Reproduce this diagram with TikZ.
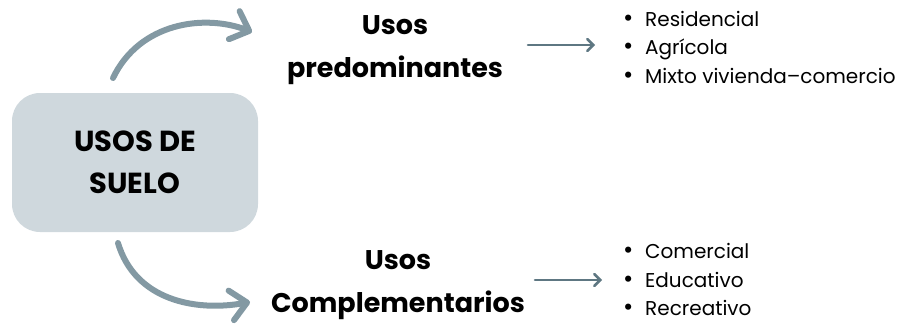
\documentclass[tikz,border=0pt]{standalone}
\usepackage{fontspec}
\setmainfont{Poppins}
\usetikzlibrary{arrows.meta}
\definecolor{boxfill}{HTML}{CFD8DD}
\definecolor{bigarrow}{HTML}{8399A3}
\definecolor{smallarrow}{HTML}{5E7782}
\newcommand\itembul{\makebox[22pt][l]{\scalebox{1.25}{•}}}
\begin{document}
\begin{tikzpicture}[x=1pt,y=-1pt,
  bigarr/.style={draw=bigarrow,line width=6pt,line cap=round,
    -{Straight Barb[length=16pt,width=30pt,line cap=round,line join=round]}},
  smallarr/.style={draw=smallarrow,line width=2.6pt,line cap=round,
    -{Straight Barb[length=6pt,width=12pt,line cap=round]}},
  title/.style={font=\fontsize{27}{43}\selectfont\bfseries,align=center,inner sep=0pt},
  item/.style={font=\fontsize{20}{28.5}\selectfont,align=left,inner sep=0pt,anchor=west}]
\useasboundingbox (0,0) rectangle (899,324);
\node[fill=boxfill,rounded corners=28pt,minimum width=246pt,minimum height=139pt,inner sep=0pt,
  font=\fontsize{29}{42}\selectfont\bfseries,align=center] (main) at (135,162.5) {USOS DE\\SUELO};
\node[title] (pred) at (395,50) {Usos\\predominantes};
\node[title] (comp) at (398,285) {Usos\\Complementarios};
\coordinate (s1) at (113,78);
\coordinate (e1) at (252,32);
\coordinate (s2) at (118,243);
\coordinate (e2) at (250,302);
\draw[bigarr] (s1) .. controls (140,22) and (205,14) .. (e1);
\draw[bigarr] (s2) .. controls (135,300) and (195,312) .. (e2);
\coordinate (a1s) at (528,45);
\coordinate (a1e) at (595,45);
\coordinate (a2s) at (535,280);
\coordinate (a2e) at (602,280);
\draw[smallarr] (a1s) -- (a1e);
\draw[smallarr] (a2s) -- (a2e);
\node[item] (l1) at (623,47) {\itembul Residencial\\\itembul Agrícola\\\itembul Mixto vivienda–comercio};
\node[item] (l2) at (623,279.5) {\itembul Comercial\\\itembul Educativo\\\itembul Recreativo};
\end{tikzpicture}
\end{document}
